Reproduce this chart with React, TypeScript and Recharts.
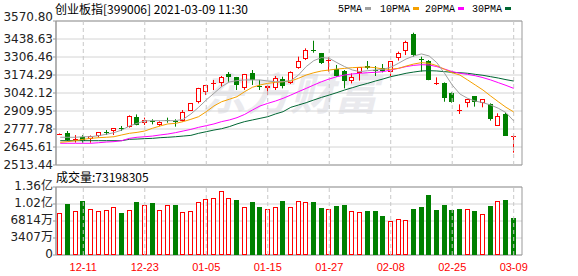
import React from 'react';
import { ComposedChart, Bar, Line, XAxis, YAxis, CartesianGrid, ReferenceLine, ReferenceArea } from 'recharts';

const dates = [
  '12-08', '12-09', '12-10', '12-11', '12-14', '12-15', '12-16', '12-17', '12-18', '12-21',
  '12-22', '12-23', '12-24', '12-25', '12-28', '12-29', '12-30', '12-31', '01-04', '01-05',
  '01-06', '01-07', '01-08', '01-11', '01-12', '01-13', '01-14', '01-15', '01-18', '01-19',
  '01-20', '01-21', '01-22', '01-25', '01-26', '01-27', '01-28', '01-29', '02-01', '02-02',
  '02-03', '02-04', '02-05', '02-08', '02-09', '02-10', '02-18', '02-19', '02-22', '02-23',
  '02-24', '02-25', '02-26', '03-01', '03-02', '03-03', '03-04', '03-05', '03-08', '03-09',
];

const opens = [
  2740, 2746, 2700, 2721, 2702, 2729, 2758, 2761, 2785, 2790,
  2863, 2819, 2833, 2807, 2846, 2834, 2839, 2912, 2978, 3052,
  3115, 3113, 3182, 3157, 3081, 3186, 3094, 3076, 3081, 3142,
  3113, 3223, 3292, 3357, 3333, 3282, 3218, 3204, 3133, 3186,
  3243, 3213, 3223, 3199, 3297, 3353, 3475, 3291, 3277, 3111,
  3118, 3045, 2915, 2966, 3018, 2966, 2959, 2802, 2885, 2719,
];
const highs = [
  2745, 2763, 2733, 2733, 2730, 2755, 2770, 2785, 2800, 2878,
  2885, 2861, 2849, 2834, 2861, 2849, 2917, 2968, 3080, 3100,
  3138, 3167, 3196, 3160, 3182, 3211, 3138, 3101, 3167, 3162,
  3201, 3309, 3370, 3426, 3336, 3304, 3248, 3211, 3186, 3233,
  3277, 3240, 3255, 3277, 3346, 3426, 3485, 3309, 3284, 3157,
  3120, 3047, 2959, 3000, 3020, 2998, 2966, 2893, 2898, 2734,
];
const lows = [
  2738, 2690, 2678, 2677, 2677, 2716, 2734, 2734, 2763, 2788,
  2805, 2807, 2812, 2800, 2824, 2795, 2832, 2910, 2966, 3027,
  3064, 3089, 3125, 3064, 3065, 3101, 3064, 3027, 3064, 3076,
  3108, 3220, 3284, 3338, 3255, 3199, 3162, 3076, 3113, 3133,
  3216, 3167, 3194, 3167, 3280, 3321, 3309, 3199, 3136, 3101,
  2978, 2971, 2888, 2937, 2942, 2937, 2839, 2800, 2727, 2604,
];
const closes = [
  2742, 2697, 2705, 2692, 2726, 2753, 2755, 2783, 2780, 2876,
  2807, 2844, 2830, 2832, 2842, 2829, 2900, 2966, 3076, 3098,
  3118, 3157, 3157, 3101, 3179, 3138, 3090, 3095, 3150, 3093,
  3199, 3280, 3356, 3352, 3265, 3286, 3167, 3133, 3157, 3231,
  3223, 3209, 3206, 3275, 3338, 3419, 3321, 3287, 3138, 3115,
  3008, 2978, 2919, 2998, 2974, 2996, 2851, 2873, 2729, 2723,
];

const ma5 = [
  2717, 2717, 2717, 2721, 2721, 2729, 2739, 2751, 2770, 2800,
  2819, 2837, 2839, 2839, 2839, 2839, 2849, 2888, 2937, 2991,
  3040, 3089, 3123, 3133, 3138, 3138, 3138, 3130, 3125, 3125,
  3133, 3174, 3236, 3280, 3302, 3297, 3265, 3236, 3211, 3199,
  3206, 3211, 3216, 3231, 3260, 3292, 3314, 3329, 3314, 3265,
  3187, 3101, 3035, 3003, 2983, 2971, 2954, 2930, 2898, 2837,
];
const ma10 = [
  2680, 2685, 2692, 2702, 2709, 2714, 2717, 2721, 2734, 2746,
  2753, 2763, 2783, 2800, 2815, 2819, 2832, 2849, 2868, 2905,
  2947, 2978, 2996, 3015, 3052, 3084, 3101, 3113, 3120, 3125,
  3130, 3150, 3174, 3191, 3204, 3211, 3218, 3223, 3228, 3231,
  3233, 3228, 3218, 3216, 3223, 3240, 3255, 3265, 3260, 3243,
  3216, 3191, 3174, 3138, 3101, 3064, 3020, 2978, 2937, 2903,
];
const ma20 = [
  2673, 2673, 2673, 2673, 2673, 2677, 2682, 2685, 2692, 2709,
  2717, 2721, 2726, 2734, 2741, 2751, 2763, 2775, 2790, 2802,
  2815, 2832, 2844, 2861, 2885, 2917, 2947, 2966, 2983, 3003,
  3027, 3052, 3076, 3101, 3125, 3145, 3162, 3174, 3182, 3187,
  3191, 3194, 3199, 3211, 3223, 3236, 3245, 3250, 3248, 3236,
  3218, 3199, 3187, 3179, 3169, 3155, 3138, 3118, 3098, 3076,
];
const ma30 = [
  2692, 2692, 2692, 2692, 2692, 2692, 2692, 2692, 2692, 2702,
  2704, 2707, 2709, 2714, 2717, 2721, 2726, 2731, 2746, 2758,
  2770, 2780, 2795, 2815, 2832, 2844, 2856, 2868, 2888, 2905,
  2937, 2954, 2971, 2991, 3010, 3027, 3045, 3064, 3081, 3098,
  3113, 3130, 3145, 3162, 3174, 3187, 3196, 3204, 3206, 3204,
  3199, 3194, 3191, 3187, 3179, 3172, 3162, 3152, 3140, 3130,
];

const volumes = [
  83500000, 102000000, 88000000, 108000000, 91500000, 88000000, 89500000, 95500000, 84000000, 89500000,
  106000000, 99500000, 103500000, 89500000, 100000000, 100000000, 85500000, 87500000, 105500000, 111500000,
  113500000, 127500000, 114000000, 110000000, 95500000, 106000000, 96000000, 91500000, 95500000, 108000000,
  95500000, 107500000, 105500000, 105500000, 93500000, 91500000, 98200000, 100200000, 87500000, 85500000,
  87500000, 87500000, 78200000, 67500000, 71500000, 69500000, 92200000, 96200000, 120200000, 90200000,
  100200000, 90200000, 92200000, 91500000, 88200000, 82200000, 98200000, 107500000, 110200000, 73198305,
];

const priceTicks = [2513.44, 2645.61, 2777.78, 2909.95, 3042.12, 3174.29, 3306.46, 3438.63, 3570.8];
const volumeTicks = [0, 34070000, 68140000, 102210000, 136280000];
const labelIndexes = [3, 11, 19, 27, 35, 43, 51, 59];

const RED = '#ff0000';
const GREEN = '#008000';
const X_DOMAIN: [number, number] = [-0.55, 60.08];

const data = dates.map((date, i) => ({
  i,
  date,
  open: opens[i],
  high: highs[i],
  low: lows[i],
  close: closes[i],
  ma5: ma5[i],
  ma10: ma10[i],
  ma20: ma20[i],
  ma30: ma30[i],
  vol: volumes[i],
  volUp: i === 0 ? closes[i] >= opens[i] : closes[i] >= closes[i - 1],
}));

const Candle = (props: any) => {
  const { x, y, width, height, payload } = props;
  if (x == null || y == null || !payload) return null;
  const top = Math.min(y, y + height);
  const bottom = Math.max(y, y + height);
  const { open, close, high, low } = payload;
  const k = high === low ? 0 : (bottom - top) / (high - low);
  const py = (v: number) => top + (high - v) * k;
  const left = Math.round(x + width / 2 - 2.5);
  const wx = left + 2.5;
  const up = close >= open;
  const color = up ? RED : GREEN;
  const bTop = Math.round(py(Math.max(open, close)));
  const bBot = Math.round(py(Math.min(open, close)));
  if (bBot - bTop < 2) {
    return (
      <g>
        <line x1={wx} x2={wx} y1={top} y2={bottom} stroke={color} />
        <line x1={left} x2={left + 5} y1={bTop + 0.5} y2={bTop + 0.5} stroke={color} />
      </g>
    );
  }
  if (up) {
    return (
      <g>
        <line x1={wx} x2={wx} y1={top} y2={bTop} stroke={color} />
        <line x1={wx} x2={wx} y1={bBot} y2={bottom} stroke={color} />
        <rect x={left + 0.5} y={bTop + 0.5} width={4} height={bBot - bTop - 1} fill="#fff" stroke={color} />
      </g>
    );
  }
  return (
    <g>
      <line x1={wx} x2={wx} y1={top} y2={bottom} stroke={color} />
      <rect x={left} y={bTop} width={5} height={bBot - bTop} fill={color} />
    </g>
  );
};

const VolumeBar = (props: any) => {
  const { x, y, width, height, payload } = props;
  if (x == null || y == null || !payload) return null;
  const left = Math.round(x + width / 2 - 2.5);
  const top = Math.round(Math.min(y, y + height));
  const bottom = Math.round(Math.max(y, y + height));
  if (payload.volUp) {
    return <rect x={left + 0.5} y={top + 0.5} width={4} height={bottom - top - 1} fill="#fff" stroke={RED} />;
  }
  return <rect x={left} y={top} width={5} height={bottom - top} fill={GREEN} />;
};

const PriceTick = (props: any) => {
  const { x, y, payload } = props;
  const shift = payload.value === priceTicks[priceTicks.length - 1] ? -4 : 0;
  return (
    <text x={x} y={y + shift} dy={4} textAnchor="end" fontSize={12} fontFamily="DejaVu Sans" fill="#222">
      {payload.value.toFixed(2)}
    </text>
  );
};

const formatVolume = (v: number) => {
  if (v === 0) return '0';
  if (v >= 100000000) return (v / 100000000).toFixed(2) + '亿';
  return Math.round(v / 10000) + '万';
};

const VolumeTick = (props: any) => {
  const { x, y, payload } = props;
  return (
    <text x={x} y={y - 1} dy={4} textAnchor="end" fontSize={12} fontFamily="DejaVu Sans, Noto Sans CJK SC" fill="#222">
      {formatVolume(payload.value)}
    </text>
  );
};

const DateTick = (props: any) => {
  const { x, y, payload } = props;
  return (
    <text x={x} y={y + 8} textAnchor="middle" fontSize={11} fontFamily="Liberation Sans" fill={RED}>
      {dates[payload.value]}
    </text>
  );
};

const legend = [
  { name: '5PMA', color: '#a0a0a0', x: 338 },
  { name: '10PMA', color: '#f5a000', x: 380 },
  { name: '20PMA', color: '#ff00ff', x: 425 },
  { name: '30PMA', color: '#006633', x: 472 },
];

const App: React.FC = () => {
  return (
    <div style={{ position: 'absolute', left: 0, top: 0, width: 578, height: 276, background: '#fff' }}>
      <svg width={578} height={276} style={{ position: 'absolute', left: 0, top: 0 }}>
        <text x={290} y={110} textAnchor="middle" fontSize={44} fontWeight="bold" fontStyle="italic"
          fontFamily="Noto Sans CJK SC" fill="#eaeaee">东方财富</text>
      </svg>

      <div style={{ position: 'absolute', left: 0, top: 0 }}>
        <ComposedChart width={578} height={176} data={data} margin={{ top: 21, right: 56, bottom: 11, left: 0 }}>
          <CartesianGrid vertical={false} stroke="#d4d4d4" />
          <XAxis dataKey="i" type="number" domain={X_DOMAIN} allowDataOverflow hide />
          <YAxis domain={[2513.44, 3570.8]} ticks={priceTicks} allowDataOverflow width={56}
            tick={<PriceTick />} tickSize={3} tickMargin={0} stroke="#999" interval={0} />
          {labelIndexes.map(i => (
            <ReferenceLine key={i} x={i} stroke="#c8c8c8" strokeDasharray="4 3" />
          ))}
          <ReferenceArea x1={X_DOMAIN[0]} x2={X_DOMAIN[1]} y1={2513.44} y2={3570.8} fill="none" stroke="#999" />
          <Line dataKey="ma30" type="linear" stroke="#006633" dot={false} activeDot={false} strokeWidth={1} isAnimationActive={false} />
          <Line dataKey="ma20" type="linear" stroke="#ff00ff" dot={false} activeDot={false} strokeWidth={1} isAnimationActive={false} />
          <Line dataKey="ma10" type="linear" stroke="#f5a000" dot={false} activeDot={false} strokeWidth={1} isAnimationActive={false} />
          <Line dataKey="ma5" type="linear" stroke="#a0a0a0" dot={false} activeDot={false} strokeWidth={1} isAnimationActive={false} />
          <Bar dataKey={(d: any) => [d.low, d.high]} barSize={5} shape={(p: any) => <Candle {...p} />} isAnimationActive={false} />
        </ComposedChart>
      </div>

      <div style={{ position: 'absolute', left: 0, top: 170 }}>
        <ComposedChart width={578} height={106} data={data} margin={{ top: 17, right: 56, bottom: 0, left: 0 }}>
          <CartesianGrid vertical={false} stroke="#d4d4d4" />
          <XAxis dataKey="i" type="number" domain={X_DOMAIN} allowDataOverflow ticks={labelIndexes} interval={0}
            height={21} axisLine={false} tickLine={false} tick={<DateTick />} />
          <YAxis domain={[0, 136280000]} ticks={volumeTicks} allowDataOverflow width={56}
            tick={<VolumeTick />} tickSize={3} tickMargin={0} stroke="#999" interval={0} />
          {labelIndexes.map(i => (
            <ReferenceLine key={i} x={i} stroke="#c8c8c8" strokeDasharray="4 3" />
          ))}
          <ReferenceArea x1={X_DOMAIN[0]} x2={X_DOMAIN[1]} y1={0} y2={136280000} fill="none" stroke="#999" />
          <Bar dataKey="vol" barSize={5} shape={(p: any) => <VolumeBar {...p} />} isAnimationActive={false} />
        </ComposedChart>
      </div>

      <svg width={578} height={276} style={{ position: 'absolute', left: 0, top: 0, pointerEvents: 'none' }}>
        <text x={55} y={14} fontSize={12} fontFamily="Noto Sans CJK SC" fill="#000">
          创业板指[399006] 2021-03-09 11:30
        </text>
        {legend.map(l => (
          <g key={l.name}>
            <text x={l.x} y={12} fontSize={10} fontFamily="Liberation Mono" fill="#000">{l.name}</text>
            <rect x={l.x + l.name.length * 6 + 3} y={7} width={6} height={3} fill={l.color} />
          </g>
        ))}
        <text x={56} y={182} fontSize={12} fontFamily="Noto Sans CJK SC" fill="#000">
          成交量:{volumes[volumes.length - 1]}
        </text>
      </svg>
    </div>
  );
};

export default App;
